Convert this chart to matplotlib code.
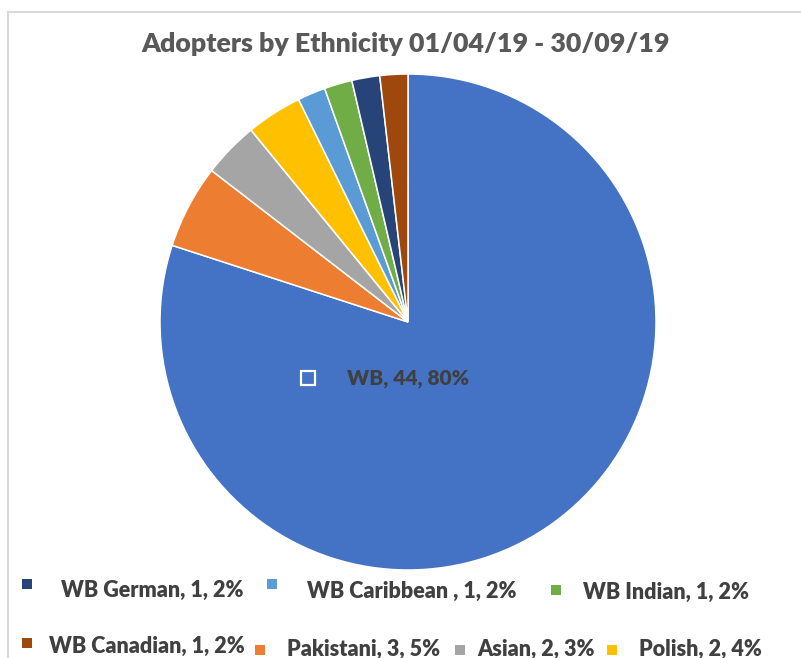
import matplotlib
matplotlib.use("Agg")
import matplotlib.pyplot as plt
from matplotlib.patches import Rectangle
from matplotlib.lines import Line2D

# ---- data ----
categories = ["WB", "Pakistani", "Asian", "Polish", "WB Caribbean ", "WB Indian", "WB German", "WB Canadian"]
counts = [44, 3, 2, 2, 1, 1, 1, 1]
percents = [80, 5, 3, 4, 2, 2, 2, 2]
colors = ["#4472C4", "#ED7D31", "#A5A5A5", "#FFC000", "#5B9BD5", "#70AD47", "#264478", "#9E480E"]
title = "Adopters by Ethnicity 01/04/19 - 30/09/19"
legend_order = ["WB German", "WB Caribbean ", "WB Indian", "WB Canadian", "Pakistani", "Asian", "Polish"]

W, H = 801, 658
FONT = "Lato"
WEIGHT = "heavy"
TXT = "#404040"

fig = plt.figure(figsize=(W / 100, H / 100), dpi=100)
fig.patch.set_facecolor("white")


def fx(x):
    return x / W


def fy(y):
    return 1 - y / H


# chart border (top and left visible)
fig.add_artist(Line2D([fx(7.5), fx(801)], [fy(11.5), fy(11.5)], color="#D9D9D9", lw=1.5))
fig.add_artist(Line2D([fx(7.5), fx(7.5)], [fy(11.5), fy(658)], color="#D9D9D9", lw=1.5))

# pie axes: centre (408, 322) radius 248 px
cx, cy, r = 408, 322, 248
ax = fig.add_axes([fx(cx - r), fy(cy + r), 2 * r / W, 2 * r / H])
ax.pie(counts, colors=colors, startangle=90, counterclock=False, radius=1,
       wedgeprops=dict(edgecolor="white", linewidth=1.1))
ax.set_xlim(-1, 1)
ax.set_ylim(-1, 1)
ax.set_aspect("auto")
ax.axis("off")

# data label for WB with legend key
lbl = f"{categories[0]}, {counts[0]}, {percents[0]}%"
ax.text(0, -(384 - cy) / r, lbl, ha="center", va="baseline", fontsize=15,
        fontweight=WEIGHT, color=TXT, family=FONT)
ax.add_patch(Rectangle(((301 - cx) / r, -(385 - cy) / r), 14 / r, 14 / r,
                       facecolor=colors[0], edgecolor="white", linewidth=1.6))

# title
fig.text(fx(406), fy(52), title, ha="center", va="baseline", fontsize=19.3,
         fontweight=WEIGHT, color="#595959", family=FONT)

# legend (manual layout as in the original)
marker_pos = [(27, 584), (272, 584), (556, 590), (27, 643), (260, 650), (460, 650), (612, 650)]
text_pos = [(61, 597), (307, 598), (583, 599), (49, 653), (287, 656), (477, 656), (639, 656)]
msize = 10
for name, (mx, my), (tx, ty) in zip(legend_order, marker_pos, text_pos):
    i = categories.index(name)
    fig.add_artist(Rectangle((fx(mx - msize / 2), fy(my + msize / 2)), msize / W, msize / H,
                             facecolor=colors[i], edgecolor="none", transform=fig.transFigure))
    fig.text(fx(tx), fy(ty), f"{name}, {counts[i]}, {percents[i]}%", ha="left", va="baseline",
             fontsize=15.5, fontweight=WEIGHT, color=TXT, family=FONT)

fig.savefig("out.png", dpi=100)
